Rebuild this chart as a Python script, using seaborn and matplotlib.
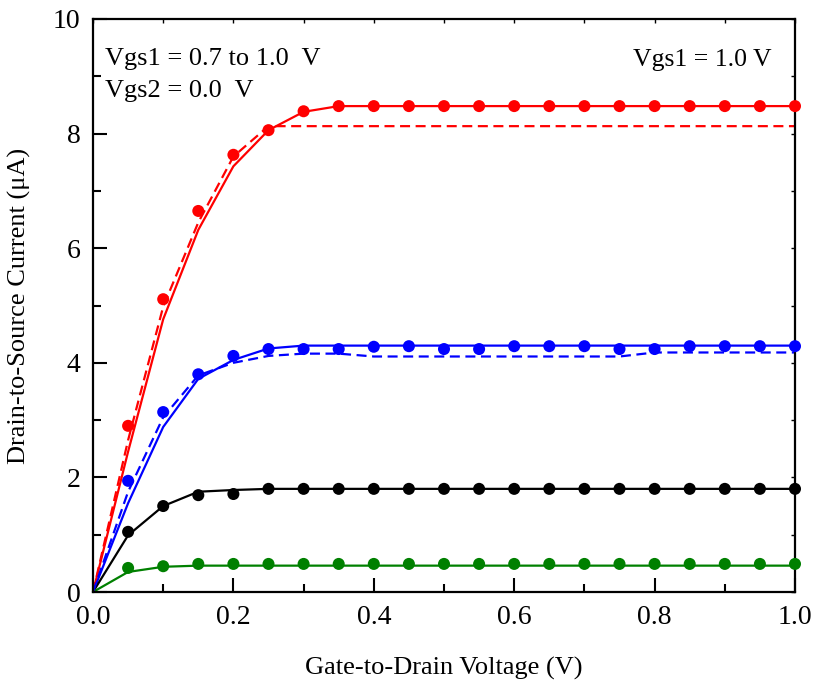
import numpy as np
import pandas as pd
import matplotlib
matplotlib.use("Agg")
import matplotlib.pyplot as plt
import seaborn as sns
from matplotlib.ticker import MultipleLocator, FormatStrFormatter

sns.set_theme(style="ticks")
plt.rcParams['font.family'] = ['Liberation Serif', 'DejaVu Serif']
plt.rcParams['text.color'] = 'black'
plt.rcParams['axes.labelcolor'] = 'black'
plt.rcParams['xtick.color'] = 'black'
plt.rcParams['ytick.color'] = 'black'

# Measured points (dots)
x_pts = [0.05, 0.10, 0.15, 0.20, 0.25, 0.30, 0.35, 0.40, 0.45, 0.50, 0.55,
         0.60, 0.65, 0.70, 0.75, 0.80, 0.85, 0.90, 0.95, 1.00]
red_pts = [2.90, 5.11, 6.65, 7.63, 8.06, 8.39, 8.48, 8.48, 8.48, 8.48, 8.48,
           8.48, 8.48, 8.48, 8.48, 8.48, 8.48, 8.48, 8.48, 8.48]
blue_pts = [1.94, 3.14, 3.80, 4.12, 4.24, 4.24, 4.24, 4.28, 4.29, 4.24, 4.24,
            4.29, 4.29, 4.29, 4.24, 4.24, 4.29, 4.29, 4.29, 4.29]
black_pts = [1.05, 1.50, 1.69, 1.71, 1.80, 1.80, 1.80, 1.80, 1.80, 1.80, 1.80,
             1.80, 1.80, 1.80, 1.80, 1.80, 1.80, 1.80, 1.80, 1.80]
green_pts = [0.42, 0.45, 0.49, 0.49, 0.49, 0.49, 0.49, 0.49, 0.49, 0.49, 0.49,
             0.49, 0.49, 0.49, 0.49, 0.49, 0.49, 0.49, 0.49, 0.49]

# Simulated curves (solid)
x_line = [0.0, 0.05, 0.10, 0.15, 0.20, 0.25, 0.30, 0.35, 0.40, 0.50, 0.60,
          0.70, 0.80, 0.90, 1.00]
red_line = [0.0, 2.45, 4.76, 6.32, 7.43, 8.06, 8.38, 8.48, 8.48, 8.48, 8.48,
            8.48, 8.48, 8.48, 8.48]
blue_line = [0.0, 1.55, 2.88, 3.72, 4.05, 4.25, 4.30, 4.30, 4.30, 4.30, 4.30,
             4.30, 4.30, 4.30, 4.30]
black_line = [0.0, 0.99, 1.50, 1.75, 1.78, 1.80, 1.80, 1.80, 1.80, 1.80, 1.80,
              1.80, 1.80, 1.80, 1.80]
green_line = [0.0, 0.35, 0.44, 0.46, 0.46, 0.46, 0.46, 0.46, 0.46, 0.46, 0.46,
              0.46, 0.46, 0.46, 0.46]

# Simulated curves (dashed)
x_dash = [0.0, 0.05, 0.10, 0.15, 0.20, 0.25, 0.30, 0.35, 0.40, 0.45, 0.50,
          0.55, 0.60, 0.65, 0.70, 0.75, 0.80, 0.85, 0.90, 0.95, 1.00]
red_dash = [0.0, 2.65, 4.98, 6.45, 7.60, 8.13, 8.13, 8.13, 8.13, 8.13, 8.13,
            8.13, 8.13, 8.13, 8.13, 8.13, 8.13, 8.13, 8.13, 8.13, 8.13]
blue_dash = [0.0, 1.75, 3.05, 3.78, 4.00, 4.12, 4.16, 4.16, 4.11, 4.11, 4.11,
             4.11, 4.11, 4.11, 4.11, 4.11, 4.18, 4.18, 4.18, 4.18, 4.18]

colors = {"red": "#ff0000", "blue": "#0000ff", "black": "#000000", "green": "#008000"}

pts_df = pd.concat([
    pd.DataFrame({"x": x_pts, "y": v, "s": k})
    for k, v in [("red", red_pts), ("blue", blue_pts), ("black", black_pts), ("green", green_pts)]
])
line_df = pd.concat([
    pd.DataFrame({"x": x_line, "y": v, "s": k})
    for k, v in [("red", red_line), ("blue", blue_line), ("black", black_line), ("green", green_line)]
])
dash_df = pd.concat([
    pd.DataFrame({"x": x_dash, "y": v, "s": k})
    for k, v in [("red", red_dash), ("blue", blue_dash)]
])

fig = plt.figure(figsize=(8.13, 6.85), dpi=100)
ax = fig.add_axes([93/813, 1 - 592/685, (795-93)/813, (592-19)/685])

sns.lineplot(data=line_df, x="x", y="y", hue="s", palette=colors, lw=1.6,
             legend=False, ax=ax, sort=False)
sns.lineplot(data=dash_df, x="x", y="y", hue="s", palette=colors, lw=1.6,
             legend=False, ax=ax, sort=False, dashes=False)
for l in ax.lines[4:]:
    l.set_linestyle((0, (4.5, 2.5)))
sns.scatterplot(data=pts_df, x="x", y="y", hue="s", palette=colors, s=75,
                edgecolor="none", legend=False, ax=ax, zorder=5, clip_on=False)

ax.set_xlim(0, 1.0)
ax.set_ylim(0, 10)
ax.xaxis.set_major_locator(MultipleLocator(0.2))
ax.xaxis.set_minor_locator(MultipleLocator(0.1))
ax.yaxis.set_major_locator(MultipleLocator(2))
ax.yaxis.set_minor_locator(MultipleLocator(1))
ax.xaxis.set_major_formatter(FormatStrFormatter("%.1f"))
ax.yaxis.set_major_formatter(FormatStrFormatter("%d"))
ax.tick_params(which="major", direction="in", length=10, width=1.5, labelsize=20,
               pad=9, colors="black")
ax.tick_params(which="minor", direction="in", length=6, width=1.5, colors="black")
for sp in ax.spines.values():
    sp.set_linewidth(1.6)
    sp.set_color("black")

secx = ax.secondary_xaxis("top")
secx.xaxis.set_major_locator(MultipleLocator(0.1))
secx.tick_params(direction="in", length=3, width=1, labeltop=False, colors="black")
secy = ax.secondary_yaxis("right")
secy.yaxis.set_major_locator(MultipleLocator(1))
secy.tick_params(direction="in", length=3, width=1, labelright=False, colors="black")

ax.set_xlabel("Gate-to-Drain Voltage (V)", fontsize=19, labelpad=20, color="black")
ax.set_ylabel("Drain-to-Source Current (μA)", fontsize=19, labelpad=16, color="black")

ax.text(0.017, 0.931, "Vgs1 = 0.7 to 1.0  V", transform=ax.transAxes, fontsize=19,
        va="center", ha="left", color="black")
ax.text(0.017, 0.875, "Vgs2 = 0.0  V", transform=ax.transAxes, fontsize=19,
        va="center", ha="left", color="black")
ax.text(0.967, 0.928, "Vgs1 = 1.0 V", transform=ax.transAxes, fontsize=18.5,
        va="center", ha="right", color="black")

fig.savefig("out.png", dpi=100)
